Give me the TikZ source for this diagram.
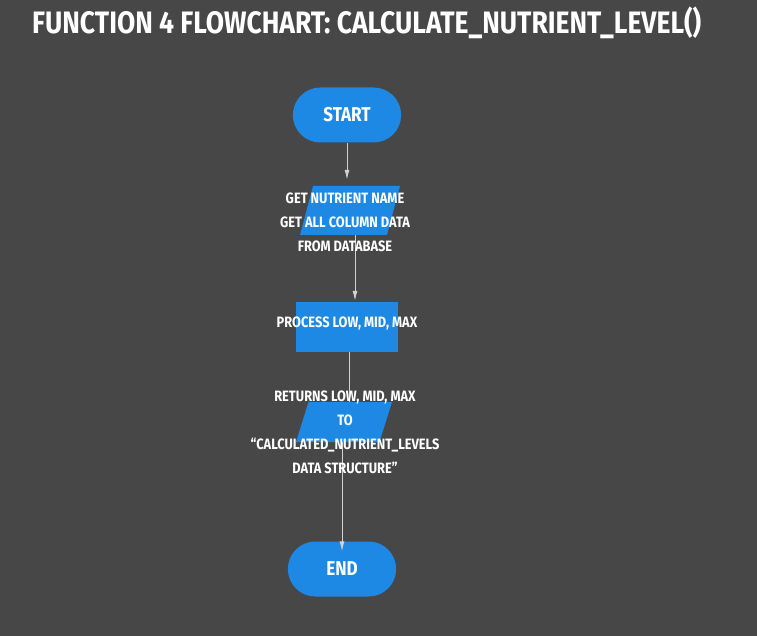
\documentclass[tikz,border=0pt]{standalone}
\usepackage{fontspec}
\usepackage{tikz}
\usetikzlibrary{shapes.misc,shapes.geometric,arrows.meta}
\newfontfamily\condfont{Fira Sans}[FakeStretch=0.855]
\definecolor{bgcol}{HTML}{474747}
\definecolor{boxblue}{HTML}{1E88E5}
\definecolor{linecol}{HTML}{D2D2D2}

\tikzset{
  terminal/.style={rounded rectangle, fill=boxblue, minimum width=115pt, minimum height=55pt},
  iobox/.style={trapezium, trapezium left angle=80, trapezium right angle=100,
    trapezium stretches=true, fill=boxblue, minimum height=#1},
  procbox/.style={rectangle, fill=boxblue, minimum width=102pt, minimum height=50pt},
  label/.style={text=white, align=center, font=\condfont\bfseries\fontsize{15}{24}\selectfont},
  biglabel/.style={label, font=\condfont\bfseries\fontsize{20}{20}\selectfont},
  flow/.style={draw=linecol, line width=1pt, -{Latex[length=10pt,width=5pt]}},
}

\begin{document}
\begin{tikzpicture}[x=1pt, y=-1pt]
  % Background and title
  \fill[bgcol] (0,0) rectangle (757,636);
  \useasboundingbox (0,0) rectangle (757,636);
  \node[anchor=base west, text=white, inner sep=0pt,
    font=\condfont\bfseries\fontsize{31}{31}\selectfont] (title) at (32,34)
    {FUNCTION 4 FLOWCHART: CALCULATE\_NUTRIENT\_LEVEL()};

  % Shapes
  \node[terminal] (start) at (347,115) {};
  \node[iobox=49pt, minimum width=100pt] (io1) at (350,210.5) {};
  \node[procbox] (proc) at (347,327) {};
  \node[iobox=40pt, minimum width=96pt] (io2) at (344,422) {};
  \node[terminal] (end) at (342,569) {};

  % Connectors
  \draw[flow, shorten >=6pt] (start.south) -- (io1.north -| start.south);
  \draw[flow, shorten >=1pt] ([xshift=5pt]io1.south) -- ([xshift=8pt]proc.north);
  \draw[draw=linecol, line width=1pt] ([xshift=2pt]proc.south) -- ([xshift=5pt]io2.north);
  \draw[flow, shorten >=-10pt] ([xshift=-2pt]io2.south) -- (end.north);

  % Texts
  \node[biglabel] (starttxt) at (start) {START};
  \node[label] (io1txt) at (345,222)
    {GET NUTRIENT NAME\\GET ALL COLUMN DATA\\FROM DATABASE};
  \node[label] (proctxt) at (347,324) {PROCESS LOW, MID, MAX};
  \node[label] (io2txt) at (345,432)
    {RETURNS LOW, MID, MAX\\TO\\“CALCULATED\_NUTRIENT\_LEVELS\\DATA STRUCTURE”};
  \node[biglabel] (endtxt) at (end) {END};
\end{tikzpicture}
\end{document}
